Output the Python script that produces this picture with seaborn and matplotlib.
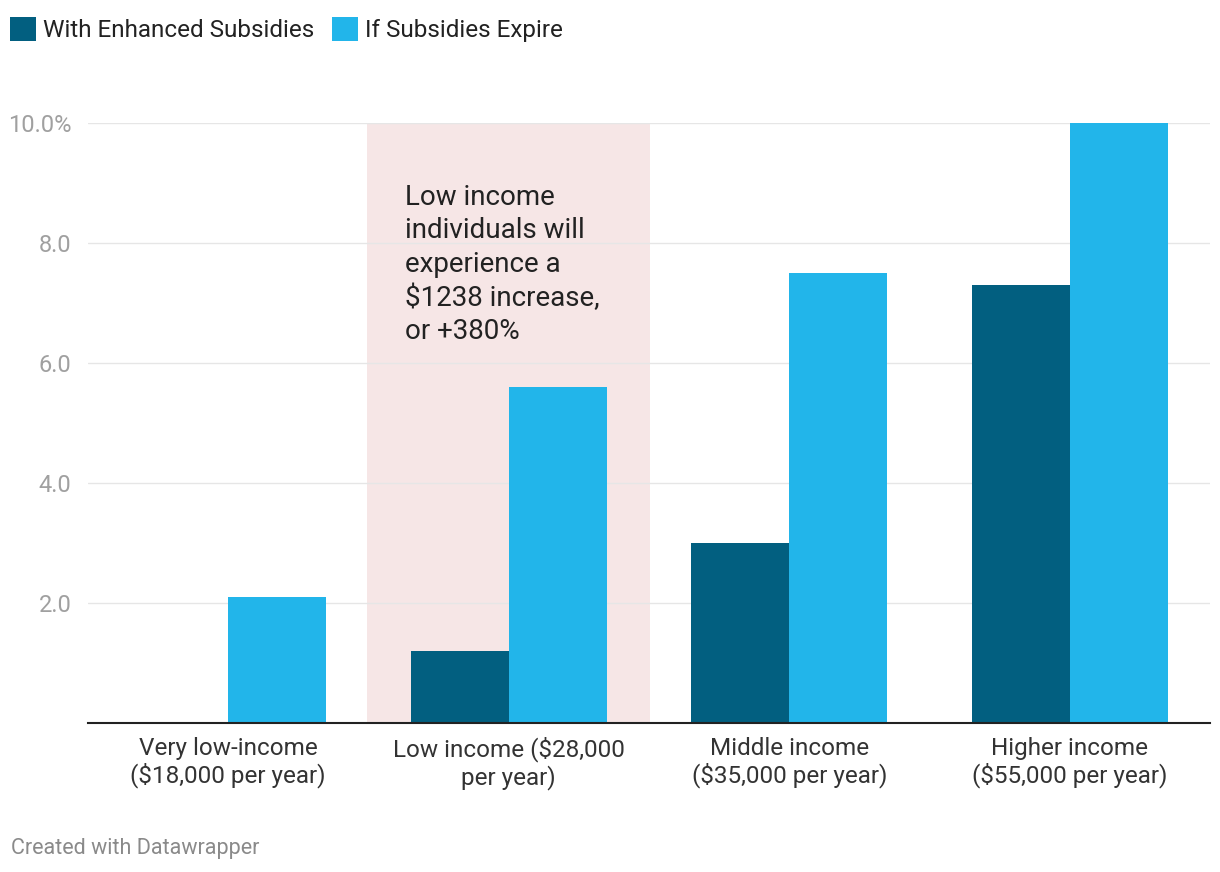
import matplotlib
matplotlib.use("Agg")
import matplotlib.pyplot as plt
import seaborn as sns
import pandas as pd

categories = ["Very low-income\n($18,000 per year)",
              "Low income ($28,000\nper year)",
              "Middle income\n($35,000 per year)",
              "Higher income\n($55,000 per year)"]
with_subsidies = [0.0, 1.2, 3.0, 7.3]
subsidies_expire = [2.1, 5.6, 7.5, 10.0]
series_names = ["With Enhanced Subsidies", "If Subsidies Expire"]
ytick_vals = [2, 4, 6, 8, 10]
ytick_labels = ["2.0", "4.0", "6.0", "8.0", "10.0%"]
note = "Low income\nindividuals will\nexperience a\n$1238 increase,\nor +380%"

df = pd.DataFrame({
    "category": categories * 2,
    "value": with_subsidies + subsidies_expire,
    "series": [series_names[0]] * 4 + [series_names[1]] * 4,
})

sns.set_style("white")
plt.rcParams["font.family"] = ["Roboto", "DejaVu Sans"]

fig = plt.figure(figsize=(12.2, 8.72), dpi=100)
ax = fig.add_axes([0.0721, 0.1709, 0.9197, 0.6881])

# highlight band behind the low income group
ax.axvspan(0.495, 1.505, color="#f6e6e6", zorder=0, lw=0)

sns.barplot(data=df, x="category", y="value", hue="series",
            palette=["#025f80", "#22b5ea"], width=0.7, saturation=1,
            ax=ax, zorder=2, linewidth=0, legend=True)

ax.set_xlim(-0.5, 3.5)
ax.set_ylim(0, 10)
ax.set_yticks(ytick_vals)
ax.set_yticklabels(ytick_labels)
ax.set_axisbelow(True)
ax.grid(axis="y", color="#e6e6e6", lw=1)
ax.grid(axis="x", visible=False)
for s in ["top", "right", "left"]:
    ax.spines[s].set_visible(False)
ax.spines["bottom"].set_color("#222222")
ax.spines["bottom"].set_linewidth(1.5)
ax.spines["bottom"].set_zorder(3)
ax.tick_params(axis="y", length=0, pad=12, labelsize=17, labelcolor="#a0a0a0")
ax.tick_params(axis="x", length=0, pad=10, labelsize=17.5, labelcolor="#333333")
ax.set_xlabel("")
ax.set_ylabel("")
for t in ax.get_xticklabels():
    t.set_linespacing(1.15)

ax.text(0.63, 8.98, note, fontsize=20, color="#222222", va="top", ha="left",
        linespacing=1.3, zorder=4)

handles, labels = ax.get_legend_handles_labels()
ax.get_legend().remove()
fig.legend(handles, labels, loc="upper left", bbox_to_anchor=(10 / 1220, 1 - 17 / 872),
           ncol=2, frameon=False, fontsize=17.5, handlelength=1.05, handleheight=1.15,
           handletextpad=0.3, columnspacing=0.75, labelcolor="#222222",
           borderpad=0, borderaxespad=0)

fig.text(0.009, 0.021, "Created with Datawrapper", fontsize=15.5, color="#8a8a8a")

fig.savefig("out.png", dpi=100, facecolor="white")
